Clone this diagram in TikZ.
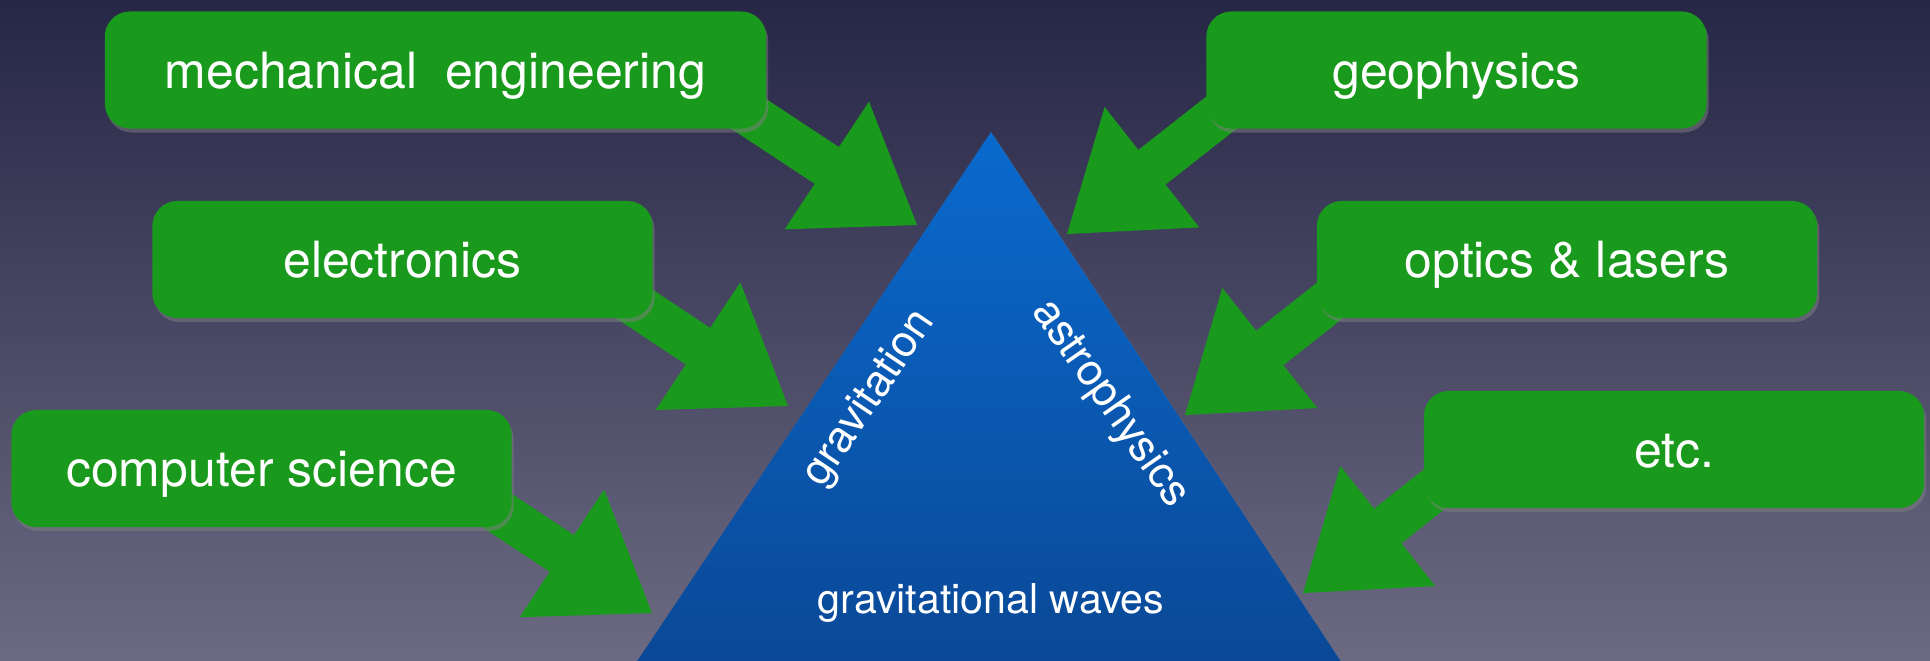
\documentclass[tikz,border=0pt]{standalone}
\usepackage{fontspec}
\setmainfont{TeX Gyre Heros}
\usetikzlibrary{positioning}
\usetikzlibrary{arrows.meta}
\usetikzlibrary{shadows}
\definecolor{bgtop}{RGB}{38,38,70}
\definecolor{bgbot}{RGB}{108,106,130}
\definecolor{mgreen}{RGB}{26,154,28}
\definecolor{tritop}{RGB}{10,106,206}
\definecolor{tribot}{RGB}{10,66,140}
\pgfdeclarelayer{backdrop}
\pgfdeclarelayer{arrowlayer}
\pgfsetlayers{backdrop,arrowlayer,main}
\tikzset{fieldbox/.style = {fill=mgreen, rounded corners=0.25cm,
                            minimum width=5cm, minimum height=1.17cm,
                            text height=0.36cm, text depth=0pt,
                            text=white, font=\fontsize{14.2}{17}\selectfont,
                            drop shadow={opacity=0.5, shadow xshift=0.02cm,
                                         shadow yshift=-0.04cm}}}
\tikzset{bigarrow/.style = {mgreen, line width=0.44cm,
                            -{Triangle[length=1.08cm, width=1.53cm, line width=0pt]}}}
\tikzset{trilabel/.style = {text=white, font=\fontsize{12.5}{15}\selectfont}}

\begin{document}
\begin{tikzpicture}[x=0.01cm, y=-0.01cm]
  \useasboundingbox (0,0) rectangle (1930,660);
  \begin{pgfonlayer}{backdrop}
    \shade[top color=bgtop, bottom color=bgbot] (0,0) rectangle (1930,660);
  \end{pgfonlayer}
  % the triangle
  \coordinate (apex) at (991,132);
  \path[top color=tritop, bottom color=tribot,
        drop shadow={opacity=0.45, shadow xshift=0.03cm, shadow yshift=-0.04cm}]
    (apex) -- (571,760) -- (1406,760) -- cycle;
  \node[trilabel, rotate=56] (grav) at (870,399) {gravitation};
  \node[trilabel, rotate=-55] (astro) at (1110,404) {astrophysics};
  \node[trilabel, font=\fontsize{11.7}{14}\selectfont]
    (gw) at (991,603) {gravitational waves};
  % the fields
  \node[fieldbox, minimum width=6.61cm]
    (mech) at (435.5,70) {mechanical\ \ engineering};
  \node[fieldbox] (elec) at (402.5,259.5) {electronics};
  \node[fieldbox] (comp) at (261.5,468.5) {computer science};
  \node[fieldbox] (geo) at (1456.5,70) {geophysics};
  \node[fieldbox] (optics) at (1567,259.5) {optics \& lasers};
  \node[fieldbox] (etc) at (1674,449.5) {etc.};
  \coordinate (mechtip) at (917,225);
  \coordinate (electip) at (788,406);
  \coordinate (comptip) at (652,613);
  \coordinate (geotip) at (1067,234);
  \coordinate (opticstip) at (1185,415);
  \coordinate (etctip) at (1303,593);
  \begin{pgfonlayer}{arrowlayer}
    \draw[bigarrow] ([shift={(-57,-41)}]mech.south east) -- (mechtip);
    \draw[bigarrow] ([shift={(-72,-50)}]elec.south east) -- (electip);
    \draw[bigarrow] ([shift={(-68,-52)}]comp.south east) -- (comptip);
    \draw[bigarrow] ([shift={(57,-49)}]geo.south west) -- (geotip);
    \draw[bigarrow] ([shift={(64,-58)}]optics.south west) -- (opticstip);
    \draw[bigarrow] ([shift={(75,-70)}]etc.south west) -- (etctip);
  \end{pgfonlayer}
\end{tikzpicture}
\end{document}
